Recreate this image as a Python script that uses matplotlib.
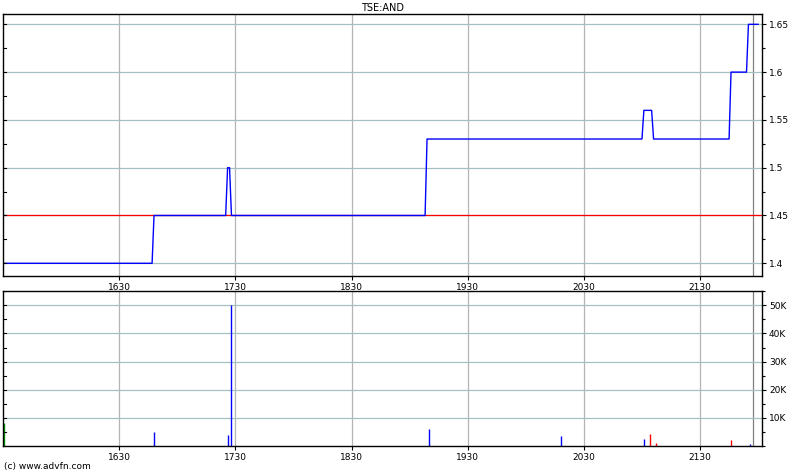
import matplotlib
matplotlib.use("Agg")
import matplotlib.pyplot as plt
import matplotlib.transforms as mtransforms
from matplotlib.ticker import FixedLocator, MultipleLocator

# ---- data (time as minutes after midnight) ----
price_time = [930, 1007, 1008, 1045, 1046, 1047, 1048, 1148, 1149, 1260, 1261, 1265, 1266,
              1305, 1306, 1314, 1315, 1320]
price_vals = [1.40, 1.40, 1.45, 1.45, 1.50, 1.50, 1.45, 1.45, 1.53, 1.53, 1.56, 1.56, 1.53,
              1.53, 1.60, 1.60, 1.65, 1.65]
prev_close = 1.45

vol_time = [930.6, 1008, 1046, 1048, 1150, 1218, 1261, 1264, 1267, 1306, 1316]
vol_vals = [8000, 5000, 4000, 50000, 6000, 3600, 2600, 4300, 900, 2200, 800]
vol_colors = ["#00a000", "blue", "blue", "blue", "blue", "blue", "blue", "red", "red", "red", "blue"]

hour_ticks = [990, 1050, 1110, 1170, 1230, 1290]
hour_labels = ["1630", "1730", "1830", "1930", "2030", "2130"]
price_ticks = [1.40, 1.45, 1.50, 1.55, 1.60, 1.65]
price_labels = ["1.4", "1.45", "1.5", "1.55", "1.6", "1.65"]
vol_ticks = [10000, 20000, 30000, 40000, 50000]
vol_labels = ["10K", "20K", "30K", "40K", "50K"]
title = "TSE:AND"
session_end = 1317.5

plt.rcParams['font.family'] = ['DejaVu Sans']
fig = plt.figure(figsize=(8, 4.75), dpi=100)
fs = 6.5

ax1 = fig.add_axes([3/800, 1-276/475, 759/800, 262/475])
ax2 = fig.add_axes([3/800, 1-446/475, 759/800, 155.3/475])

xmin, xmax = 930, 1322


def left_inner_ticks(ax, majors, minor_step):
    lo, hi = ax.get_ylim()
    trans = mtransforms.blended_transform_factory(ax.transAxes, ax.transData)
    v = lo - (lo % minor_step) + minor_step
    while v < hi:
        ax.plot([0, 0.004], [v, v], transform=trans, color='black', lw=0.8, zorder=5)
        v += minor_step


for ax in (ax1, ax2):
    ax.set_xlim(xmin, xmax)
    ax.xaxis.set_major_locator(FixedLocator(hour_ticks))
    ax.set_xticklabels(hour_labels, fontsize=fs)
    ax.tick_params(axis='x', length=3, width=0.8, pad=2, direction='out')
    ax.yaxis.tick_right()
    ax.tick_params(axis='y', which='both', right=True, left=False, labelleft=False,
                   labelright=True, labelsize=fs, width=0.8, pad=2)
    ax.tick_params(axis='y', which='major', length=3)
    ax.tick_params(axis='y', which='minor', length=2)
    for s in ax.spines.values():
        s.set_linewidth(1.0)
        s.set_color('black')
    for t in hour_ticks:
        ax.axvline(t, color='#b4b4b4', lw=0.9, zorder=0)
    ax.axvline(session_end, color='#808080', lw=0.9, zorder=0)

# price panel
ax1.set_ylim(1.3867, 1.6608)
ax1.yaxis.set_major_locator(FixedLocator(price_ticks))
ax1.set_yticklabels(price_labels)
ax1.yaxis.set_minor_locator(MultipleLocator(0.025))
for v in price_ticks:
    ax1.axhline(v, color='#a4c0c0', lw=0.9, zorder=0)
ax1.axhline(prev_close, color='red', lw=0.9, zorder=1)
ax1.plot(price_time, price_vals, color='blue', lw=1.0, zorder=2)
ax1.set_title(title, fontsize=fs + 0.5, pad=2)
left_inner_ticks(ax1, price_ticks, 0.025)

# volume panel
ax2.set_ylim(0, 55200)
ax2.yaxis.set_major_locator(FixedLocator(vol_ticks))
ax2.set_yticklabels(vol_labels)
ax2.yaxis.set_minor_locator(MultipleLocator(5000))
for v in vol_ticks:
    ax2.axhline(v, color='#a4c0c0', lw=0.9, zorder=0)
ax2.vlines(vol_time, 0, vol_vals, colors=vol_colors, lw=1.0, zorder=2)
left_inner_ticks(ax2, vol_ticks, 5000)

fig.text(4/800, 1-466/475, "(c) www.advfn.com", fontsize=fs, va='center', ha='left')

fig.savefig("out.png", dpi=100)
